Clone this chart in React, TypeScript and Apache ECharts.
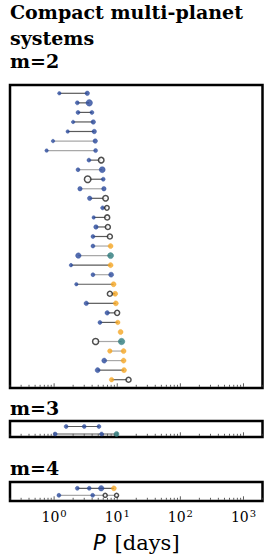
import React, { useEffect, useRef } from "react";
import * as echarts from "echarts";

// ---- data (periods in days; b=blue, o=orange, t=teal, k=open black) ----
const m2Periods: number[][] = [
  [1.21, 3.35], [2.33, 3.6], [2.39, 3.97], [2.0, 4.17], [1.64, 4.32],
  [0.96, 4.48], [0.76, 4.54], [3.56, 5.57], [2.39, 5.78], [3.4, 6.0],
  [2.57, 6.15], [3.66, 6.53], [5.86, 6.86], [4.23, 6.93], [4.6, 7.1],
  [4.12, 7.64], [4.12, 7.84], [2.42, 7.84], [1.85, 7.84], [4.12, 8.0],
  [2.25, 8.74], [7.64, 9.27], [3.23, 9.5], [6.93, 9.96], [5.32, 10.2],
  [11.3], [4.54, 11.7], [7.64, 12.6], [6.22, 12.6], [4.89, 12.8],
  [8.13, 15.1],
];
const m2Types: string[][] = [
  ["b", "b"], ["b", "b"], ["b", "b"], ["b", "b"], ["b", "b"],
  ["b", "b"], ["b", "b"], ["b", "k"], ["b", "b"], ["k", "b"],
  ["b", "b"], ["b", "k"], ["b", "k"], ["b", "k"], ["b", "k"],
  ["b", "k"], ["b", "o"], ["b", "t"], ["b", "o"], ["b", "b"],
  ["b", "o"], ["k", "o"], ["b", "o"], ["b", "k"], ["b", "o"],
  ["o"], ["k", "t"], ["o", "o"], ["b", "o"], ["b", "o"],
  ["o", "k"],
];
const m2Sizes: number[][] = [
  [3.5, 4.5], [4, 6.5], [4, 4], [3.5, 4.5], [3.5, 4.5],
  [3.5, 4.5], [3.5, 4], [4, 5.5], [4, 6], [6.5, 4],
  [4.5, 4.5], [4.5, 5.5], [4, 4.5], [3.5, 5], [4.5, 5],
  [4, 5], [4, 5], [5.5, 6], [3.5, 5], [4, 5],
  [3.5, 5], [5, 5], [4.5, 5], [4.5, 5], [4, 4.5],
  [5], [6, 6.5], [4.5, 5], [5, 5], [5, 5],
  [4.5, 5],
];
const m2LinkDark: number[] = [
  1, 1, 1, 1, 1, 0, 0, 1, 0, 1, 0, 1, 1, 1, 1, 1, 0, 0, 1, 0,
  1, 1, 1, 1, 1, 1, 0, 0, 0, 1, 1,
];

const m3Periods: number[][] = [[1.55, 3.0, 5.13], [1.04, 5.65, 9.75]];
const m3Types: string[][] = [["b", "b", "b"], ["b", "b", "t"]];
const m3Sizes: number[][] = [[4, 4, 4], [4, 4, 5]];
const m3LinkDark: number[] = [1, 1];

const m4Periods: number[][] = [[2.33, 3.6, 5.57, 8.84], [1.19, 4.08, 6.44, 9.75]];
const m4Types: string[][] = [["b", "b", "b", "o"], ["b", "b", "k", "k"]];
const m4Sizes: number[][] = [[4, 4, 5.5, 5], [4, 4, 4, 4]];
const m4LinkDark: number[] = [1, 0];

const tickMantissas = [1, 2, 3, 4, 5, 6, 7, 8, 9];
const tickDecades = [-1, 0, 1, 2, 3];
const xMin = 0.2;
const xMax = 2000;

const COLORS: Record<string, string> = {
  b: "#2a4a9c",
  o: "#f5a623",
  t: "#2d7a7c",
  k: "#ffffff",
};

const SERIF = "DejaVu Serif";

export default function App() {
  const ref = useRef<HTMLDivElement>(null);
  useEffect(() => {
    if (!ref.current) return;
    const chart = echarts.init(ref.current, undefined, { renderer: "svg" });

    const panels = [
      { periods: m2Periods, types: m2Types, sizes: m2Sizes, dark: m2LinkDark, top: 85, height: 303, ymin: -0.87, ymax: 30.87 },
      { periods: m3Periods, types: m3Types, sizes: m3Sizes, dark: m3LinkDark, top: 421, height: 16, ymin: -0.73, ymax: 1.4 },
      { periods: m4Periods, types: m4Types, sizes: m4Sizes, dark: m4LinkDark, top: 482, height: 19, ymin: -0.9, ymax: 1.81 },
    ];

    const tickValues: number[][] = [];
    tickDecades.forEach((d) =>
      tickMantissas.forEach((m) => {
        const v = m * Math.pow(10, d);
        if (v >= xMin - 1e-9 && v <= xMax + 1e-9) tickValues.push([v, m === 1 ? 1 : 0]);
      })
    );

    const grids: any[] = [];
    const xAxes: any[] = [];
    const yAxes: any[] = [];
    const series: any[] = [];

    panels.forEach((p, i) => {
      grids.push({
        left: 10, right: 11.5, top: p.top, height: p.height,
        show: true, borderColor: "#000", borderWidth: 2.5, backgroundColor: "transparent",
        containLabel: false,
      });
      const last = i === panels.length - 1;
      xAxes.push({
        type: "log", logBase: 10, gridIndex: i, min: xMin, max: xMax,
        axisLine: { show: false }, axisTick: { show: false }, splitLine: { show: false },
        axisLabel: last
          ? {
              show: true, margin: 7, showMinLabel: false, showMaxLabel: false,
              formatter: (v: number) => `{b|10}{s|${Math.round(Math.log10(v))}}`,
              rich: {
                b: { fontFamily: SERIF, fontSize: 14, color: "#000", verticalAlign: "bottom", lineHeight: 16 },
                s: { fontFamily: SERIF, fontSize: 10, color: "#000", verticalAlign: "top", lineHeight: 16, padding: [0, 0, 0, 1] },
              },
            }
          : { show: false },
        name: last ? "{i|P}{sp| }{r|[days]}" : "",
        nameLocation: "middle",
        nameGap: 31,
        nameTextStyle: {
          rich: {
            i: { fontFamily: "DejaVu Sans", fontStyle: "italic", fontSize: 21, color: "#000" },
            sp: { fontFamily: SERIF, fontSize: 21, width: 9 },
            r: { fontFamily: SERIF, fontSize: 21, color: "#000" },
          },
        },
      });
      yAxes.push({
        type: "value", gridIndex: i, inverse: true, min: p.ymin, max: p.ymax, show: false,
      });

      // links
      const linkData: number[][] = [];
      p.periods.forEach((row, r) => {
        if (row.length > 1) linkData.push([Math.min(...row), Math.max(...row), r, p.dark[r]]);
      });
      series.push({
        type: "custom", xAxisIndex: i, yAxisIndex: i, silent: true, z: 2,
        encode: { x: [0, 1], y: 2 },
        data: linkData,
        renderItem: (_params: any, api: any) => {
          const a = api.coord([api.value(0), api.value(2)]);
          const b = api.coord([api.value(1), api.value(2)]);
          return {
            type: "line",
            shape: { x1: a[0], y1: a[1], x2: b[0], y2: b[1] },
            style: { stroke: api.value(3) ? "#5a5a5a" : "#a8a8a8", lineWidth: 1.2 },
          };
        },
      });

      // ticks
      series.push({
        type: "custom", xAxisIndex: i, yAxisIndex: i, silent: true, z: 1,
        encode: { x: 0 },
        data: tickValues.map((t) => [t[0], p.ymin, t[1]]),
        renderItem: (params: any, api: any) => {
          const x = api.coord([api.value(0), 0])[0];
          const cs = params.coordSys;
          const bottom = cs.y + cs.height - 1.2;
          const len = api.value(2) ? 3.5 : 2;
          return {
            type: "line",
            shape: { x1: x, y1: bottom, x2: x, y2: bottom - len },
            style: { stroke: "#333", lineWidth: 0.8 },
          };
        },
      });

      // points by type
      ["b", "o", "t", "k"].forEach((ty) => {
        const pts: any[] = [];
        p.periods.forEach((row, r) =>
          row.forEach((v, j) => {
            if (p.types[r][j] === ty) pts.push({ value: [v, r], symbolSize: p.sizes[r][j] });
          })
        );
        if (!pts.length) return;
        series.push({
          type: "scatter", xAxisIndex: i, yAxisIndex: i, z: 3, silent: true,
          data: pts,
          symbol: "circle",
          itemStyle:
            ty === "k"
              ? { color: "#ffffff", borderColor: "#222", borderWidth: 1.5 }
              : { color: COLORS[ty], borderColor: COLORS[ty], borderWidth: 0.5 },
        });
      });
    });

    const txt = (text: string, y: number, fs: number) => ({
      type: "text", left: 10, top: y,
      style: { text, fontFamily: SERIF, fontWeight: "bold", fontSize: fs, fill: "#000" },
    });

    chart.setOption({
      animation: false,
      backgroundColor: "#ffffff",
      grid: grids,
      xAxis: xAxes,
      yAxis: yAxes,
      series,
      graphic: [
        txt("Compact multi-planet", 2, 19),
        txt("systems", 28, 19),
        txt("m=2", 51, 19),
        txt("m=3", 398, 19),
        txt("m=4", 458, 19),
      ],
    });
    return () => chart.dispose();
  }, []);

  return (
    <div
      ref={ref}
      style={{ position: "fixed", left: 0, top: 0, width: 274, height: 554, background: "#fff" }}
    />
  );
}
